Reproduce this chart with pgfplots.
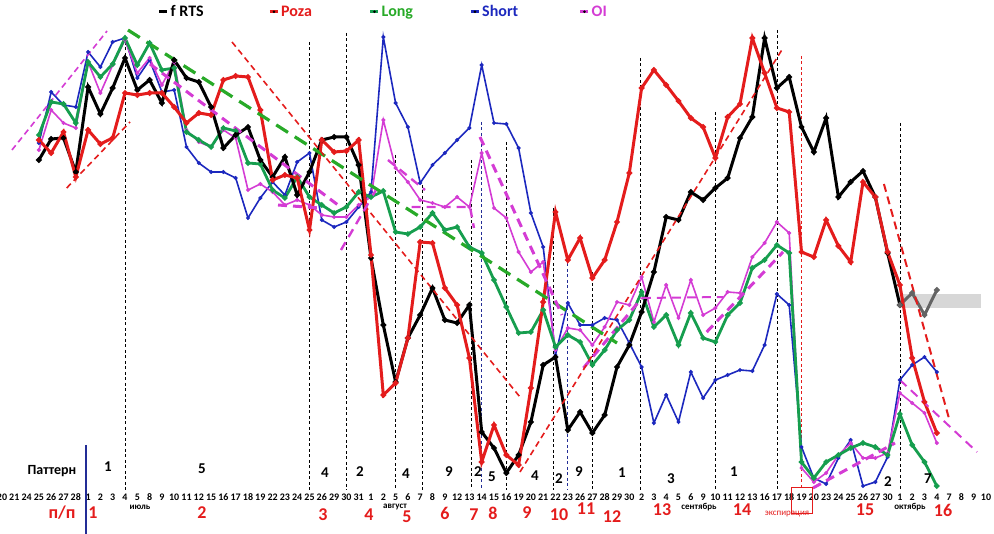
\documentclass[border=0pt]{standalone}
\usepackage{fontspec}
\setmainfont{Carlito}
\usepackage{pgfplots}
\usepackage{pgfplotstable}
\pgfplotsset{compat=1.18}

\definecolor{cRed}{RGB}{228,28,28}
\definecolor{cGreen}{RGB}{22,158,78}
\definecolor{cGreenD}{RGB}{40,170,40}
\definecolor{cBlue}{RGB}{28,40,190}
\definecolor{cMag}{RGB}{212,60,212}
\definecolor{cNavy}{RGB}{35,45,150}
\definecolor{cBand}{RGB}{215,215,215}
\definecolor{cGray}{RGB}{100,100,100}

% i = trading day index, values = height (px from top)
\pgfplotstableread{
i  rts poza long short oi
3  160 140 135 143 150
4  139 153 102 92  110
5  138 132 104 105 123
6  172 177 123 107 128
7  87  130 62  52  62
8  114 144 77  67  93
9  88  138 64  42  65
10 58  93  38  38  40
11 90  95  65  78  73
12 80  93  43  60  58
13 103 93  70  92  85
14 60  107 68  90  62
15 78  123 132 147 130
16 82  113 140 163 142
17 107 115 147 172 147
18 148 80  128 172 130
19 135 76  131 178 138
20 127 77  163 218 190
21 160 110 164 198 184
22 177 180 190 182 192
23 157 175 198 195 205
24 195 178 177 162 200
25 172 230 197 153 205
26 140 140 205 220 215
27 137 152 213 227 217
28 137 151 207 222 217
29 165 140 192 207 205
30 258 255 197 192 197
31 325 395 191 37  120
32 382 383 232 103 168
33 338 338 234 127 182
34 315 242 227 183 200
35 288 243 213 165 203
36 320 288 230 153 207
37 323 305 227 140 197
38 305 358 247 128 207
39 432 462 253 65  153
40 448 425 280 123 208
41 473 455 307 124 218
42 455 465 333 148 252
43 422 388 332 213 272
44 365 302 310 247 262
45 357 212 347 355 350
46 430 260 335 303 328
47 412 238 342 325 330
48 433 278 365 325 345
49 415 260 350 318 327
50 367 222 330 320 302
51 345 173 320 343 305
52 312 88  292 367 277
53 272 70  327 423 322
54 217 85  315 395 285
55 220 101 345 422 318
56 192 118 313 372 280
57 200 127 338 398 315
58 188 158 342 380 308
59 178 117 315 375 292
60 138 104 303 370 293
61 117 38  268 371 257
62 38  73  260 345 243
63 88  108 245 294 222
64 77  112 253 305 233
65 127 252 462 447 468
66 152 257 478 478 482
67 118 220 462 484 473
68 197 246 455 458 455
69 182 262 448 440 443
70 171 182 443 486 458
71 197 197 447 482 458
72 253 252 455 457 453
73 305 285 414 380 393
74 293 358 445 365 403
75 315 402 462 357 413
76 290 433 486 372 443
}\series

\begin{document}
\begin{tikzpicture}
\useasboundingbox (0,0) rectangle (994pt,-534pt);
\begin{axis}[
    at={(0,0)}, anchor=north west,
    scale only axis, width=994pt, height=534pt,
    xmin=-0.1626, xmax=80.65, ymin=0, ymax=534,
    y filter/.expression={534-y},
    clip=false,
    axis line style={draw=none},
    tick style={draw=none},
    ytick=\empty,
    xtick={0,...,80},
    xticklabels={20,21,24,25,26,27,28,1,2,3,4,5,8,9,10,11,12,15,16,17,18,19,22,23,24,25,26,29,30,31,1,2,5,6,7,8,9,12,13,14,15,16,19,20,21,22,23,26,27,28,29,30,2,3,4,5,6,9,10,11,12,13,16,17,18,19,20,23,24,25,26,27,30,1,2,3,4,7,8,9,10},
    xticklabel style={font=\fontsize{10}{12}\selectfont\bfseries, yshift=44pt},
    legend columns=5,
    legend cell align=left,
    legend style={at={(rel axis cs:0.159,0.978)}, anchor=west, draw=none, fill=none,
        font=\fontsize{16}{18}\selectfont\bfseries, inner sep=0pt},
    legend image code/.code={\draw[#1,mark=none,line width=2.5pt] (0pt,0pt) -- (8pt,0pt);
        \fill[black] (4pt,0pt) circle (1pt);},
    every axis plot/.append style={forget plot},
    dots/.style={mark=*, mark size=1.1pt, mark options={fill=black,draw=none,solid}},
]
% vertical pattern borders
\addplot[black, line width=0.8pt, dash pattern=on 3pt off 2.5pt] coordinates {(10,42) (10,490)};
\addplot[black, line width=0.8pt, dash pattern=on 3pt off 2.5pt] coordinates {(25,42) (25,490)};
\addplot[black, line width=0.8pt, dash pattern=on 3pt off 2.5pt] coordinates {(28,33) (28,490)};
\addplot[black, line width=0.8pt, dash pattern=on 3pt off 2.5pt] coordinates {(32,155) (32,490)};
\addplot[black, line width=0.8pt, dash pattern=on 3pt off 2.5pt] coordinates {(34.15,185) (34.15,490)};
\addplot[black, line width=0.8pt, dash pattern=on 3pt off 2.5pt] coordinates {(38.13,160) (38.13,490)};
\addplot[cNavy, line width=0.8pt, dash pattern=on 3pt off 2.5pt] coordinates {(39,122) (39,490)};
\addplot[black, line width=0.8pt, dash pattern=on 3pt off 2.5pt] coordinates {(41,142) (41,490)};
\addplot[black, line width=0.8pt, dash pattern=on 3pt off 2.5pt] coordinates {(44.8,208) (44.8,490)};
\addplot[cNavy, line width=0.8pt, dash pattern=on 3pt off 2.5pt] coordinates {(46,258) (46,490)};
\addplot[black, line width=0.8pt, dash pattern=on 3pt off 2.5pt] coordinates {(48,272) (48,490)};
\addplot[black, line width=0.8pt, dash pattern=on 3pt off 2.5pt] coordinates {(51.87,58) (51.87,490)};
\addplot[black, line width=0.8pt, dash pattern=on 3pt off 2.5pt] coordinates {(58,112) (58,490)};
\addplot[black, line width=0.8pt, dash pattern=on 3pt off 2.5pt] coordinates {(63,30) (63,490)};
\addplot[black, line width=0.8pt, dash pattern=on 3pt off 2.5pt] coordinates {(73,123) (73,490)};
\addplot[cRed, line width=0.8pt, dash pattern=on 3pt off 2.5pt] coordinates {(65,56) (65,488)};

% grey band at the end
\addplot[fill=cBand, draw=none] coordinates {(73,294) (79.6,294) (79.6,308) (73,308)} -- cycle;

% series
\addplot[cBlue, line width=1.6pt, dots] table[x=i,y=short]{\series};
\addplot[cMag, line width=1.6pt, dots] table[x=i,y=oi]{\series};
\addplot[cGreen, line width=2.8pt, dots] table[x=i,y=long]{\series};
\addplot[black, line width=3pt, dots, restrict x to domain=3:73] table[x=i,y=rts]{\series};
\addplot[cGray, line width=3pt, dots, restrict x to domain=73:76] table[x=i,y=rts]{\series};
\addplot[cRed, line width=3pt, dots] table[x=i,y=poza]{\series};

% trend lines
\addplot[cMag, line width=1.6pt, dash pattern=on 6pt off 4pt] coordinates {(0.81,150) (8.54,31)};
\addplot[cRed, line width=1.6pt, dash pattern=on 6pt off 4pt] coordinates {(5.26,188) (10.41,122)};
\addplot[cGreenD, line width=3.2pt, dash pattern=on 14pt off 8pt] coordinates {(10.24,30) (50.0,343)};
\addplot[cRed, line width=1.6pt, dash pattern=on 6pt off 4pt] coordinates {(18.7,42) (42.11,397)};
\addplot[cMag, line width=3pt, dash pattern=on 9pt off 6pt] coordinates {(12.03,64) (27.32,205)};
\addplot[cMag, line width=3pt, dash pattern=on 9pt off 6pt] coordinates {(22.44,205) (25.85,208)};
\addplot[cMag, line width=2.4pt, dash pattern=on 9pt off 6pt] coordinates {(27.56,250) (30.4,190)};
\addplot[cMag, line width=2.4pt, dash pattern=on 9pt off 6pt] coordinates {(31.38,160) (34.39,190)};
\addplot[cMag, line width=2.4pt, dash pattern=on 9pt off 6pt] coordinates {(33.3,207) (38.05,207) (38.37,228)};
\addplot[cMag, line width=3pt, dash pattern=on 9pt off 6pt] coordinates {(38.86,137) (45.53,315)};
\addplot[cMag, line width=3pt, dash pattern=on 9pt off 6pt] coordinates {(47.27,368) (52.03,298)};
\addplot[cMag, line width=2pt, dash pattern=on 9pt off 6pt] coordinates {(52.03,298) (58.62,297)};
\addplot[cMag, line width=3pt, dash pattern=on 9pt off 6pt] coordinates {(57.29,332) (63.5,252)};
\addplot[cMag, line width=3pt, dash pattern=on 9pt off 6pt] coordinates {(65.93,488) (72.6,443)};
\addplot[cMag, line width=2pt, dash pattern=on 9pt off 6pt] coordinates {(73.0,380) (79.27,452)};
\addplot[cRed, line width=1.6pt, dash pattern=on 6pt off 4pt] coordinates {(42.11,472) (63.5,48)};
\addplot[cRed, line width=2pt, dash pattern=on 8pt off 5pt] coordinates {(71.7,184) (77.07,422)};

% legend
\addlegendimage{black}
\addlegendentry{\makebox[96pt][l]{f RTS}}
\addlegendimage{cRed}
\addlegendentry{\makebox[86pt][l]{\textcolor{cRed}{Poza}}}
\addlegendimage{cGreen}
\addlegendentry{\makebox[86pt][l]{\textcolor{cGreenD}{Long}}}
\addlegendimage{cBlue}
\addlegendentry{\makebox[95pt][l]{\textcolor{cBlue}{Short}}}
\addlegendimage{cMag}
\addlegendentry{\textcolor{cMag}{OI}}
\end{axis}

\begin{scope}[x=1pt,y=-1pt]
\draw[cNavy, line width=2.5pt] (86,445) -- (86,534);
\node[font=\fontsize{14}{16}\selectfont\bfseries] at (52,471) {Паттерн};
\foreach \x/\y/\t in {108/467/1, 202/469/5, 325/473/4, 360/472/2, 406/474/4, 449/472/9,
    478/472/2, 492/477/5, 535/476/4, 559/479/2, 579/472/9, 622/473/1, 671/479/3,
    734/472/1, 888/482/2, 928/479/7}
  \node[font=\fontsize{15}{17}\selectfont\bfseries] at (\x,\y) {\t};
\foreach \x/\t in {140/июль, 395/август, 699/сентябрь, 910/октябрь}
  \node[font=\fontsize{9}{11}\selectfont\bfseries] at (\x,507) {\t};
\node[font=\fontsize{9}{11}\selectfont, text=cRed] at (787,514) {экспирация};
\draw[cRed, line width=0.9pt] (791,487) rectangle (812,513);
\foreach \x/\y/\t in {62/513/{п/п}, 93/513/1, 202/513/2, 323/515/3, 369/515/4, 407/517/5,
    445/513/6, 474/515/7, 493/513/8, 527/513/9, 559/515/10, 586/509/11, 612/517/12,
    662/510/13, 742/510/14, 865/510/15, 943/510/16}
  \node[font=\fontsize{18}{20}\selectfont\bfseries, text=cRed] at (\x,\y) {\t};
\end{scope}
\end{tikzpicture}
\end{document}
